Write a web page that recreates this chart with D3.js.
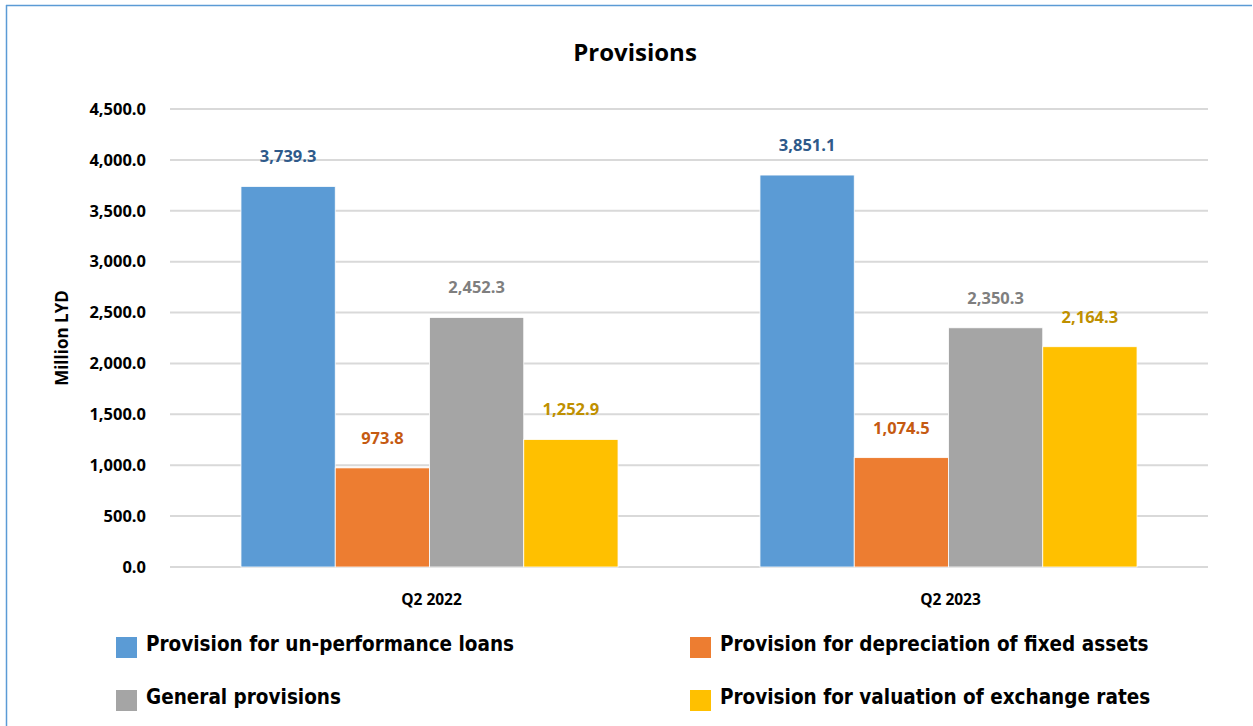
<!DOCTYPE html>
<html>
<head>
<meta charset="utf-8">
<script src="https://cdn.jsdelivr.net/npm/d3@7"></script>
<style>
  body { margin: 0; background: #fff; }
  svg { display: block; }
  text { font-family: "Open Sans", "Noto Sans", sans-serif; }
</style>
</head>
<body>
<div id="chart"></div>
<script>
const categories = ['Q2 2022', 'Q2 2023'];
const series = [
  'Provision for un-performance loans',
  'Provision for depreciation of fixed assets',
  'General provisions',
  'Provision for valuation of exchange rates'
];
const values = {
  'Provision for un-performance loans': [3739.3, 3851.1],
  'Provision for depreciation of fixed assets': [973.8, 1074.5],
  'General provisions': [2452.3, 2350.3],
  'Provision for valuation of exchange rates': [1252.9, 2164.3]
};
const yTicks = [0, 500, 1000, 1500, 2000, 2500, 3000, 3500, 4000, 4500];

const barColors = ['#5b9bd5', '#ed7d31', '#a5a5a5', '#ffc000'];
const labelColors = ['#2f5a8a', '#c55a11', '#7f7f7f', '#bf9000'];

const width = 1253, height = 726;
const margin = { top: 109, right: 45, bottom: 159, left: 170 };

const svg = d3.select('#chart').append('svg')
  .attr('width', width)
  .attr('height', height);

// frame lines (top and left only)
svg.append('line').attr('x1', 6).attr('x2', 1252).attr('y1', 5.5).attr('y2', 5.5)
  .attr('stroke', '#5b9bd5').attr('stroke-width', 1.5);
svg.append('line').attr('x1', 6.5).attr('x2', 6.5).attr('y1', 5).attr('y2', height)
  .attr('stroke', '#5b9bd5').attr('stroke-width', 1.5);

svg.append('text')
  .attr('x', 635).attr('y', 61)
  .attr('text-anchor', 'middle')
  .style('font-size', '24px').style('font-weight', 'bold')
  .text('Provisions');

const g = svg.append('g').attr('transform', `translate(${margin.left},${margin.top})`);
const w = width - margin.left - margin.right;
const h = height - margin.top - margin.bottom;

const x0 = d3.scaleBand().domain(categories).range([0, w])
  .paddingInner(0.2735).paddingOuter(0.13675);
const x1 = d3.scaleBand().domain(series).range([0, x0.bandwidth()]).padding(0);
const y = d3.scaleLinear().domain([0, 4500]).range([h, 0]);

// gridlines
g.append('g').selectAll('line').data(yTicks).join('line')
  .attr('x1', 0).attr('x2', w)
  .attr('y1', d => y(d)).attr('y2', d => y(d))
  .attr('stroke', '#d9d9d9').attr('stroke-width', 2);

// y tick labels
const yAxis = g.append('g')
  .call(d3.axisLeft(y).tickValues(yTicks).tickSize(0).tickPadding(24)
    .tickFormat(d3.format(',.1f')));
yAxis.select('.domain').remove();
yAxis.selectAll('text')
  .style('font-size', '16.5px').style('font-weight', 'bold').attr('fill', '#000')
  .style('font-family', '"Open Sans", sans-serif');

// y title
g.append('text')
  .attr('transform', `translate(-102,${h / 2}) rotate(-90)`)
  .attr('text-anchor', 'middle')
  .style('font-size', '17px').style('font-weight', 'bold')
  .text('Million LYD');

// bars
const groups = g.selectAll('.grp').data(categories).join('g')
  .attr('class', 'grp')
  .attr('transform', d => `translate(${x0(d)},0)`);

groups.selectAll('rect')
  .data((c, ci) => series.map((s, si) => ({ s, si, v: values[s][ci] })))
  .join('rect')
  .attr('x', d => x1(d.s))
  .attr('width', x1.bandwidth())
  .attr('y', d => y(d.v))
  .attr('height', d => h - y(d.v))
  .attr('fill', d => barColors[d.si])
  .attr('stroke', '#fff').attr('stroke-width', 0.8);

groups.selectAll('.lbl')
  .data((c, ci) => series.map((s, si) => ({ s, si, v: values[s][ci] })))
  .join('text')
  .attr('class', 'lbl')
  .attr('x', d => x1(d.s) + x1.bandwidth() / 2)
  .attr('y', d => y(d.v) - 24)
  .attr('text-anchor', 'middle')
  .style('font-size', '16.5px').style('font-weight', 'bold')
  .attr('fill', d => labelColors[d.si])
  .text(d => d3.format(',.1f')(d.v));

// x labels
g.append('g').selectAll('text').data(categories).join('text')
  .attr('x', d => x0(d) + x0.bandwidth() / 2 + 2)
  .attr('y', h + 38)
  .attr('text-anchor', 'middle')
  .style('font-size', '15.5px').style('font-weight', 'bold')
  .text(d => d);

// legend
const legendPos = [
  { x: 116, y: 637 }, { x: 690, y: 637 },
  { x: 116, y: 690 }, { x: 690, y: 690 }
];
const legend = svg.append('g').selectAll('g').data(series).join('g')
  .attr('transform', (d, i) => `translate(${legendPos[i].x},${legendPos[i].y})`);
legend.append('rect').attr('width', 21).attr('height', 21)
  .attr('fill', (d, i) => barColors[i]);
legend.append('text')
  .attr('x', 30).attr('y', 14)
  .style('font-size', '20.5px').style('font-weight', 'bold')
  .style('font-family', '"DejaVu Sans Condensed", "Liberation Sans Narrow", sans-serif')
  .text(d => d);
</script>
</body>
</html>
